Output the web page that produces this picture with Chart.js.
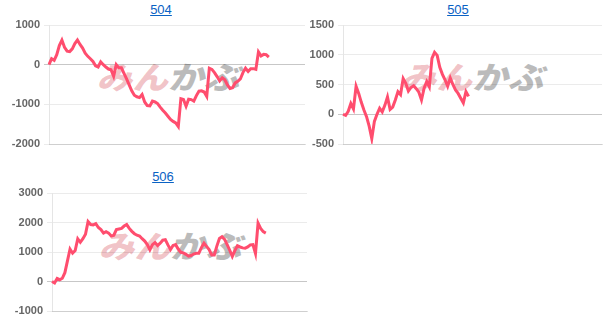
<!DOCTYPE html>
<html>
<head>
<meta charset="utf-8">
<script src="https://cdn.jsdelivr.net/npm/chart.js@4.4.0/dist/chart.umd.min.js"></script>
<style>
  body { margin: 0; background: #fff; width: 612px; height: 334px; overflow: hidden; position: relative; font-family: Arial, "Liberation Sans", sans-serif; }
  .ttl { position: absolute; width: 80px; margin-left: -40px; text-align: center; font-size: 13px; top: 2px; }
  .ttl a { color: #0a62c4; text-decoration: underline; }
  .wm { position: absolute; font-family: "Noto Sans CJK JP", sans-serif; font-weight: 900; font-size: 31px; line-height: 31px; white-space: nowrap; transform: skewX(-14deg) scaleX(1.15); transform-origin: left top; letter-spacing: 0px; }
  .wm .a { color: rgba(222, 110, 120, 0.42); }
  .wm .b { color: rgba(120, 120, 120, 0.5); }
  canvas { position: absolute; }
</style>
</head>
<body>
<div class="ttl" style="left:161px;top:2px"><a href="#">504</a></div>
<div class="ttl" style="left:458px;top:2px"><a href="#">505</a></div>
<div class="ttl" style="left:163px;top:169px"><a href="#">506</a></div>

<div class="wm" style="left:104px;top:60px"><span class="a">みん</span><span class="b">かぶ</span></div>
<div class="wm" style="left:408px;top:60px"><span class="a">みん</span><span class="b">かぶ</span></div>
<div class="wm" style="left:106px;top:229px"><span class="a">みん</span><span class="b">かぶ</span></div>

<canvas id="c504" style="left:0;top:0" width="306" height="160"></canvas>
<canvas id="c505" style="left:306px;top:0" width="306" height="160"></canvas>
<canvas id="c506" style="left:0;top:165px" width="308" height="169"></canvas>

<script>
// trading days (x axis is hidden)
const days = Array.from({ length: 100 }, (_, i) => String(i + 1));

const pnl504 = [0, 150, 110, 250, 480, 620, 440, 340, 330, 400, 530, 620, 510, 420, 290, 210,
  150, 80, -30, -60, 70, 0, -60, -110, -130, -290, 0, -80, -80, -220, -360, -510, -660, -770,
  -810, -830, -750, -940, -1030, -1040, -920, -940, -980, -1070, -1150, -1220, -1300, -1380,
  -1430, -1470, -1560, -860, -880, -1050, -870, -880, -920, -780, -670, -660, -690, -800, -90,
  -120, -200, -300, -410, -330, -380, -510, -600, -580, -460, -420, -360, -200, -90, -170,
  -100, -100, -120, 320, 220, 260, 250, 190];

const pnl505 = [0, -20, 50, 180, 90, 470, 350, 200, 70, -40, -200, -410, -120, 0, 100, 40,
  150, 290, 80, 120, 240, 380, 330, 600, 520, 390, 450, 480, 430, 370, 240, 440, 550, 460,
  940, 1040, 990, 790, 670, 580, 470, 610, 500, 410, 350, 270, 190, 380, 300];

const pnl506 = [0, -50, 100, 60, 110, 300, 700, 1100, 960, 1050, 1450, 1330, 1450, 1600, 2030,
  1930, 1920, 1960, 1830, 1760, 1640, 1690, 1640, 1540, 1570, 1760, 1780, 1800, 1880, 1930,
  1800, 1700, 1620, 1570, 1540, 1450, 1370, 1250, 1070, 1250, 1320, 1220, 1300, 1400, 1420,
  1240, 1080, 1220, 1250, 1100, 990, 970, 920, 860, 880, 930, 955, 955, 1150, 1300, 1190,
  1080, 900, 900, 1200, 1460, 1517, 1430, 1250, 1060, 850, 1050, 1210, 1170, 1140, 1130,
  1170, 1240, 1250, 950, 1980, 1800, 1690, 1640];

const ticks504 = [-2000, -1000, 0, 1000];
const ticks505 = [-500, 0, 500, 1000, 1500];
const ticks506 = [-1000, 0, 1000, 2000, 3000];

const lineColor = 'rgb(255, 77, 110)';

function makeChart(id, values, ticks, pad, axisWidth) {
  const step = ticks[1] - ticks[0];
  return new Chart(document.getElementById(id), {
    type: 'line',
    data: {
      labels: days,
      datasets: [{
        data: values,
        borderColor: lineColor,
        borderWidth: 3,
        pointRadius: 0,
        tension: 0,
        fill: false
      }]
    },
    options: {
      responsive: false,
      animation: false,
      events: [],
      layout: { padding: pad },
      plugins: { legend: { display: false }, tooltip: { enabled: false } },
      scales: {
        x: {
          display: true,
          ticks: { display: false },
          grid: { display: false, drawTicks: false },
          border: { color: 'rgba(0,0,0,0.12)' }
        },
        y: {
          min: ticks[0],
          max: ticks[ticks.length - 1],
          afterFit: s => { s.width = axisWidth; },
          ticks: {
            stepSize: step,
            padding: 4,
            color: '#666',
            font: { family: 'Arial', size: 11, weight: 'bold' },
            callback: v => String(v)
          },
          grid: {
            tickLength: 5,
            color: c => c.tick && c.tick.value === 0 ? 'rgba(0,0,0,0.22)' : 'rgba(0,0,0,0.08)'
          },
          border: { color: 'rgba(0,0,0,0.1)' }
        }
      }
    }
  });
}

makeChart('c504', pnl504, ticks504, { top: 25, bottom: 16, left: 0, right: 1 }, 49);
makeChart('c505', pnl505, ticks505, { top: 25, bottom: 16, left: 0, right: 10 }, 37);
makeChart('c506', pnl506, ticks506, { top: 28, bottom: 23, left: 0, right: 1 }, 52);
</script>
</body>
</html>
